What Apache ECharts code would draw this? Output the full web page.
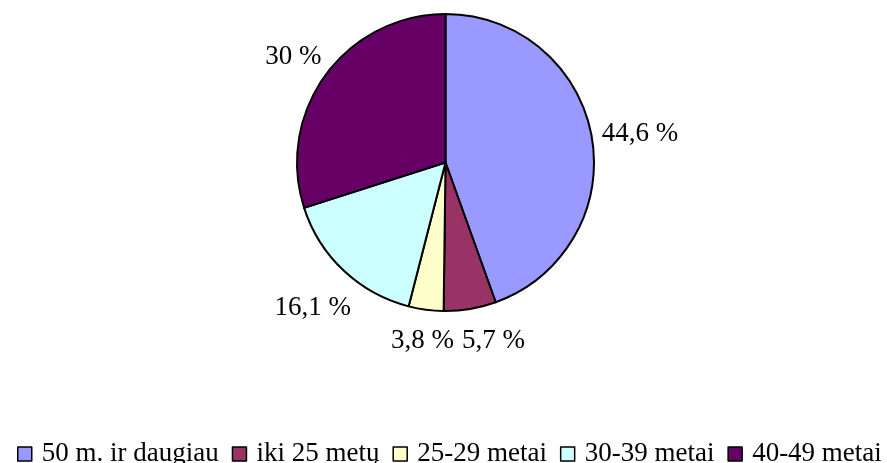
<!DOCTYPE html>
<html>
<head>
<meta charset="utf-8">
<script src="https://cdn.jsdelivr.net/npm/echarts@6/dist/echarts.min.js"></script>
<style>
  html, body { margin: 0; padding: 0; background: #fff; }
  #chart { width: 887px; height: 463px; }
</style>
</head>
<body>
<div id="chart"></div>
<script>
// age groups, share in %
const groups = ["50 m. ir daugiau", "iki 25 metų", "25-29 metai", "30-39 metai", "40-49 metai"];
const shares = [44.6, 5.7, 3.8, 16.1, 30];
const labels = ["44,6 %", "5,7 %", "3,8 %", "16,1 %", "30 %"];
const colors = ["#9999FF", "#993366", "#FFFFCC", "#CCFFFF", "#660066"];

const font = "'Liberation Serif', 'Times New Roman', serif";
const fontSize = 27;
const cx = 445.5, cy = 162.5, R = 148.5;
const labelGap = 9;
const labelDrop = 5;
const rowGap = 8;

// label widths, to keep them just clear of the rim
const ctx = document.createElement("canvas").getContext("2d");
ctx.font = fontSize + "px " + font;
const widths = labels.map(t => ctx.measureText(t).width);

const total = shares.reduce((a, b) => a + b, 0);
// centre of each label, along the middle of its slice
const labelPos = [];
let acc = 0;
shares.forEach((v, i) => {
  const a = (acc + v / 2) / total * Math.PI * 2;
  acc += v;
  const s = Math.sin(a), c = Math.cos(a);
  const d = R + labelGap + Math.abs(widths[i] / 2 * s) + Math.abs(fontSize / 2 * c);
  labelPos.push({ x: cx + d * s, y: cy - d * c + labelDrop, bottom: c < -0.9 });
});
// labels under the pie sit in one row: push the right one clear of the left one
const row = labelPos.map((p, i) => i).filter(i => labelPos[i].bottom)
  .sort((a, b) => labelPos[a].x - labelPos[b].x);
for (let k = 1; k < row.length; k++) {
  const l = row[k - 1], r = row[k];
  const minX = labelPos[l].x + (widths[l] + widths[r]) / 2 + rowGap;
  if (labelPos[r].x < minX) labelPos[r].x = minX;
}

let chart = echarts.init(document.getElementById("chart"));
chart.setOption({
  animation: false,
  color: colors,
  legend: {
    top: 434,
    left: 12,
    icon: "rect",
    itemWidth: 14,
    itemHeight: 14,
    itemGap: 13,
    itemStyle: { borderColor: "#000", borderWidth: 1.5 },
    textStyle: {
      fontFamily: font,
      fontSize: fontSize,
      lineHeight: 30,
      color: "#000",
      padding: [0, 0, 0, 5]
    },
    data: groups
  },
  series: [
    {
      type: "pie",
      center: [cx, cy],
      radius: R,
      startAngle: 90,
      clockwise: true,
      itemStyle: {
        borderColor: "#000",
        borderWidth: 2
      },
      label: {
        show: true,
        position: "outside",
        fontFamily: font,
        fontSize: fontSize,
        color: "#000",
        formatter: p => labels[p.dataIndex]
      },
      labelLine: { show: false },
      labelLayout: function (params) {
        const p = labelPos[params.dataIndex];
        return { x: p.x, y: p.y, align: "center", verticalAlign: "middle" };
      },
      emphasis: { disabled: true },
      data: groups.map((g, i) => ({ name: g, value: shares[i] }))
    }
  ]
});
</script>
</body>
</html>
